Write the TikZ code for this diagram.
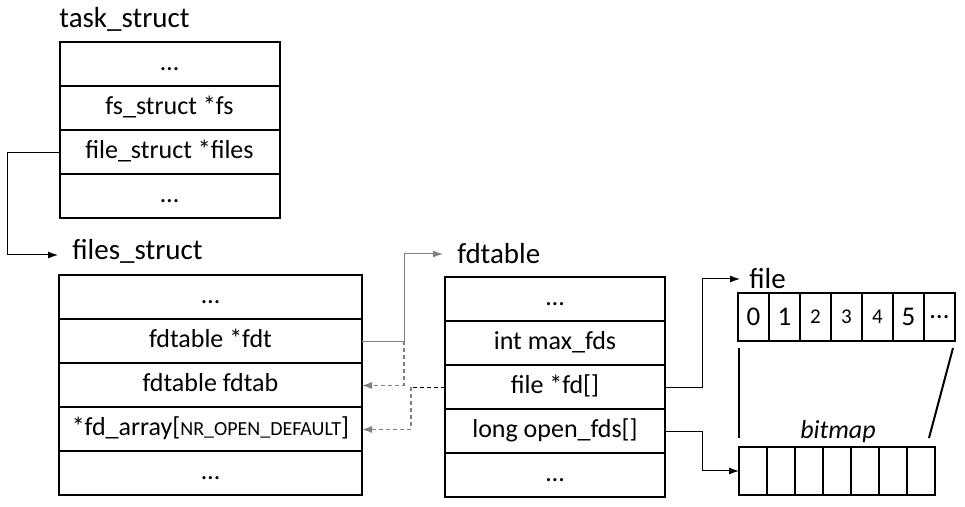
\documentclass[tikz,border=0pt]{standalone}
\usepackage{fontspec}
\setmainfont{Carlito}
\usetikzlibrary{positioning,arrows.meta}

\tikzset{
  field/.style={draw, line width=1pt, outer sep=0pt, inner sep=0pt, minimum height=22pt, text height=9.5pt, text depth=3pt, font=\fontsize{13}{15}\selectfont},
  title/.style={anchor=west, inner sep=0pt, font=\fontsize{14.5}{17}\selectfont},
  cell/.style={draw, line width=1pt, outer sep=0pt, inner sep=0pt, minimum width=15.5pt, minimum height=24pt, font=\fontsize{13.5}{15}\selectfont},
  bit/.style={draw, line width=1pt, outer sep=0pt, inner sep=0pt, minimum width=14pt, minimum height=24pt},
  link/.style={-{Latex[length=5pt,width=3.5pt]}, line width=0.5pt},
  weak/.style={dash pattern=on 2pt off 1.5pt, line width=0.6pt},
}

\begin{document}
\begin{tikzpicture}[x=0.5pt,y=-0.5pt]
\useasboundingbox (0,0) rectangle (965,507);

% task_struct
\node[title] (tstitle) at (59,19) {task\_struct};
\node[field, minimum width=110pt] (t1) at (169.5,64.5) {…};
\node[field, minimum width=110pt, below=0pt of t1] (t2) {fs\_struct *fs};
\node[field, minimum width=110pt, below=0pt of t2] (t3) {file\_struct *files};
\node[field, minimum width=110pt, below=0pt of t3] (t4) {…};

% files_struct
\node[title] (fstitle) at (72,251) {files\_struct};
\node[field, minimum width=151.5pt] (f1) at (210.5,297.5) {…};
\node[field, minimum width=151.5pt, below=0pt of f1] (fdt) {fdtable *fdt};
\node[field, minimum width=151.5pt, below=0pt of fdt] (fdtab) {fdtable fdtab};
\node[field, minimum width=151.5pt, below=0pt of fdtab] (fdarr) {*fd\_array[{\fontsize{10}{12}\selectfont NR\_OPEN\_DEFAULT}]};
\node[field, minimum width=151.5pt, below=0pt of fdarr] (f5) {…};

% fdtable
\node[title] (fdttitle) at (457,254) {fdtable};
\node[field, minimum width=110pt] (d1) at (555,299.5) {…};
\node[field, minimum width=110pt, below=0pt of d1] (maxfds) {int max\_fds};
\node[field, minimum width=110pt, below=0pt of maxfds] (fd) {file *fd[]};
\node[field, minimum width=110pt, below=0pt of fd] (openfds) {long open\_fds[]};
\node[field, minimum width=110pt, below=0pt of openfds] (d5) {…};

% file array
\node[title] (filetitle) at (749,279) {file};
\node[cell] (c0) at (753.5,317) {0};
\node[cell, right=0pt of c0] (c1) {1};
\node[cell, right=0pt of c1, font=\fontsize{10.5}{12}\selectfont] (c2) {2};
\node[cell, right=0pt of c2, font=\fontsize{10.5}{12}\selectfont] (c3) {3};
\node[cell, right=0pt of c3, font=\fontsize{10.5}{12}\selectfont] (c4) {4};
\node[cell, right=0pt of c4] (c5) {5};
\node[cell, right=0pt of c5] (c6) {…};

% bitmap
\node[bit] (b1) at (753,471) {};
\node[bit, right=0pt of b1] (b2) {};
\node[bit, right=0pt of b2] (b3) {};
\node[bit, right=0pt of b3] (b4) {};
\node[bit, right=0pt of b4] (b5) {};
\node[bit, right=0pt of b5] (b6) {};
\node[bit, right=0pt of b6] (b7) {};
\node[font=\fontsize{13}{15}\selectfont\itshape] (bitlabel) at (838,432) {bitmap};
\draw[line width=1pt] (739,348) -- (739,438);
\draw[line width=1pt] (953,348) -- (929,438);

% connectors
\draw[link] (t3.west) -- ++(-26pt,0) |- ([yshift=-2pt]fstitle.west) [shorten >=7pt];
\draw[link, gray] (fdt.east) -- ++(21pt,0) coordinate (j1) |- (fdttitle.west) [shorten >=7pt];
\draw[weak, gray, -{Latex[length=5pt,width=3.5pt]}] (j1) |- (fdtab.east);
\draw[weak] (fd.west) -- ++(-17pt,0) coordinate (j2);
\draw[weak, gray, -{Latex[length=5pt,width=3.5pt]}] (j2) |- (fdarr.east);
\draw[link] (fd.east) -- ++(18.5pt,0) |- (filetitle.west) [shorten >=4.5pt];
\draw[link] (openfds.east) -- ++(18.5pt,0) |- (b1.west);
\end{tikzpicture}
\end{document}
